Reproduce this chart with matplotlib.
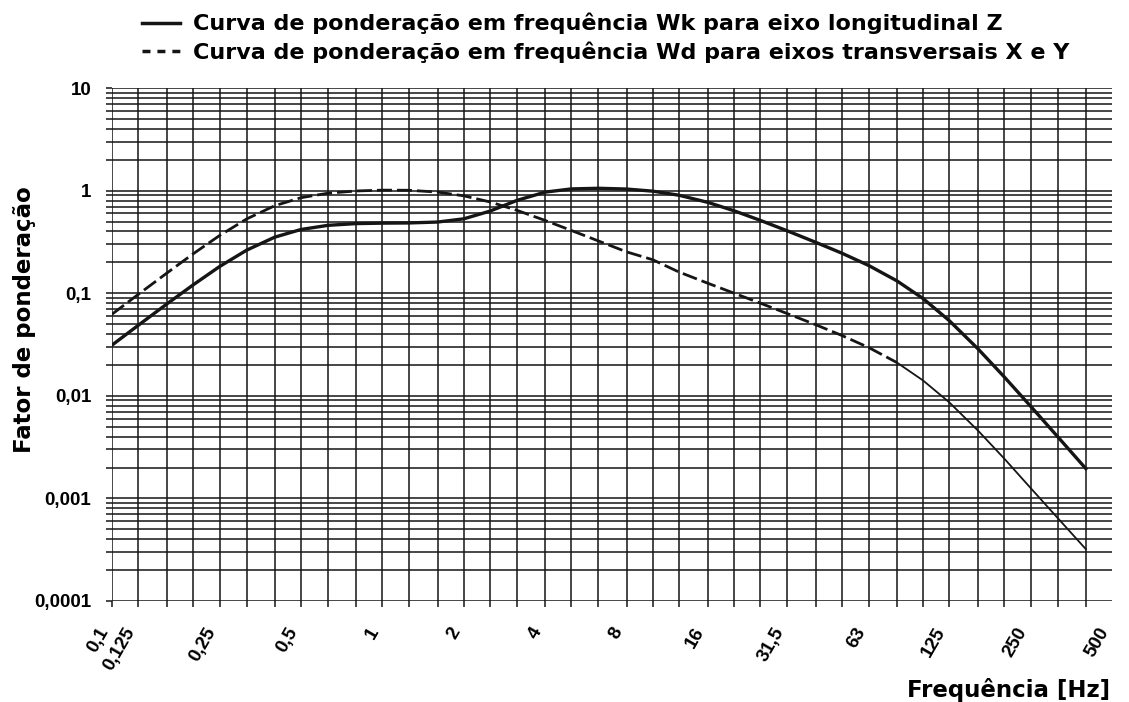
import matplotlib
matplotlib.use("Agg")
import matplotlib.pyplot as plt
from matplotlib.lines import Line2D
from matplotlib.ticker import FixedLocator, FixedFormatter, NullFormatter

# fonte
plt.rcParams['font.family'] = ['Liberation Sans', 'DejaVu Sans']
plt.rcParams['font.weight'] = 'bold'

# dados (bandas de terço de oitava)
freq = [0.1, 0.125, 0.16, 0.2, 0.25, 0.315, 0.4, 0.5, 0.63, 0.8, 1, 1.25, 1.6, 2,
        2.5, 3.15, 4, 5, 6.3, 8, 10, 12.5, 16, 20, 25, 31.5, 40, 50, 63, 80, 100,
        125, 160, 200, 250, 315, 400]

wk = [0.0312, 0.0486, 0.079, 0.121, 0.182, 0.263, 0.352, 0.418, 0.459, 0.477, 0.482,
      0.484, 0.494, 0.531, 0.631, 0.804, 0.967, 1.039, 1.054, 1.036, 0.988, 0.902,
      0.768, 0.636, 0.513, 0.405, 0.314, 0.246, 0.186, 0.132, 0.0887, 0.054, 0.0285,
      0.0152, 0.0079, 0.00398, 0.00195]

wd = [0.0624, 0.0973, 0.158, 0.243, 0.365, 0.530, 0.713, 0.853, 0.944, 0.992, 1.011,
      1.008, 0.968, 0.890, 0.776, 0.642, 0.512, 0.409, 0.323, 0.253, 0.212, 0.161,
      0.125, 0.100, 0.080, 0.0632, 0.0494, 0.0388, 0.0295, 0.0211, 0.0141, 0.00863,
      0.00455, 0.00243, 0.00126, 0.000642, 0.00032]

xticks = [0.1, 0.125, 0.25, 0.5, 1, 2, 4, 8, 16, 31.5, 63, 125, 250, 500]
xlabels = ['0,1', '0,125', '0,25', '0,5', '1', '2', '4', '8', '16', '31,5', '63',
           '125', '250', '500']
yticks = [0.0001, 0.001, 0.01, 0.1, 1, 10]
ylabels = ['0,0001', '0,001', '0,01', '0,1', '1', '10']

lab_k = 'Curva de ponderação em frequência Wk para eixo longitudinal Z'
lab_d = 'Curva de ponderação em frequência Wd para eixos transversais X e Y'

fig = plt.figure(figsize=(11.29, 7.02), dpi=100)
ax = fig.add_axes([0.0992, 0.1439, 0.8858, 0.7307])
ax.set_xscale('log')
ax.set_yscale('log')
ax.set_xlim(0.1, 500)
ax.set_ylim(0.0001, 10)

cor = '#151515'
ax.plot(freq, wk, color=cor, lw=2.4, zorder=3)
ax.plot(freq[:30], wd[:30], color=cor, lw=2.0, dashes=(5.4, 1.8), zorder=3)
ax.plot(freq[29:], wd[29:], color=cor, lw=1.3, zorder=3)

# eixo x
ax.xaxis.remove_overlapping_locs = False
ax.xaxis.set_major_locator(FixedLocator(xticks))
ax.xaxis.set_major_formatter(FixedFormatter(xlabels))
ax.xaxis.set_minor_locator(FixedLocator(freq))
ax.xaxis.set_minor_formatter(NullFormatter())
ax.tick_params(axis='x', which='major', length=0, pad=17, labelsize=13.5)
ax.tick_params(axis='x', which='minor', length=4, width=1.1, color=cor)
for t in ax.get_xticklabels():
    t.set_rotation(60)
    t.set_ha('right')
    t.set_fontweight('bold')

# eixo y
ax.yaxis.set_major_locator(FixedLocator(yticks))
ax.yaxis.set_major_formatter(FixedFormatter(ylabels))
ymin = []
for d in yticks[:-1]:
    for s in range(2, 10):
        ymin.append(d * s)
ax.yaxis.set_minor_locator(FixedLocator(ymin))
ax.yaxis.set_minor_formatter(NullFormatter())
ax.tick_params(axis='y', which='both', length=4, width=1.1, color=cor, pad=11, labelsize=13.5)

ax.grid(which='minor', axis='x', color=cor, lw=1.1)
ax.grid(which='both', axis='y', color=cor, lw=1.1)
ax.set_axisbelow(True)
for s in ax.spines.values():
    s.set_visible(False)

# legenda no topo
h_k = Line2D([], [], color=cor, lw=2.5)
h_d = Line2D([], [], color=cor, lw=2.5, dashes=(2.3, 2.0))
fig.legend(handles=[h_k, h_d], labels=[lab_k, lab_d], loc='upper left',
           bbox_to_anchor=(0.108, 1.01), frameon=False, handlelength=1.7,
           handletextpad=0.6, labelspacing=0.3,
           prop={'family': 'DejaVu Sans', 'weight': 'bold', 'size': 16})

fig.text(0.022, 0.544, 'Fator de ponderação', rotation=90, ha='center', va='center',
         fontsize=16.5, fontweight='bold', family='DejaVu Sans')
fig.text(0.983, 0.017, 'Frequência [Hz]', ha='right', va='center', fontsize=16.5,
         fontweight='bold', family='DejaVu Sans')

fig.savefig('out.png', dpi=100)
